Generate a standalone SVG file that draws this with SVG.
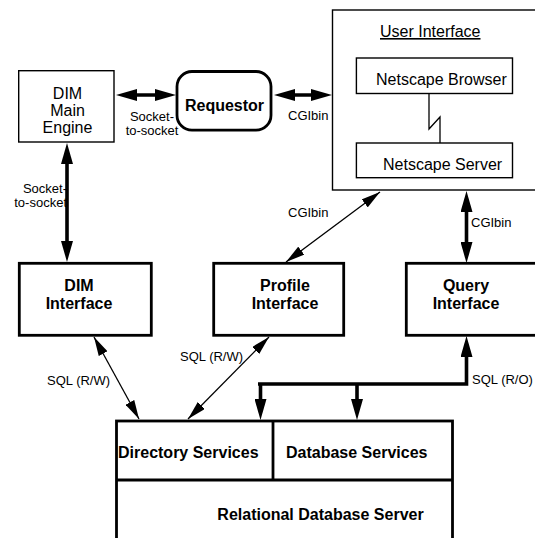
<svg xmlns="http://www.w3.org/2000/svg" width="535" height="538" viewBox="0 0 535 538">
<defs>
<style>
text{font-family:"Liberation Sans",Arial,sans-serif;fill:#000}
.t{font-size:16px}
.b{font-size:16px;font-weight:bold}
.l{font-size:13px}
.box{fill:#fff;stroke:#000;stroke-width:1.4}
.bbox{fill:#fff;stroke:#000;stroke-width:2.8}
.thick{fill:none;stroke:#000;stroke-width:3.6}
.thin{fill:none;stroke:#000;stroke-width:1.3}
</style>
<marker id="ah" markerUnits="userSpaceOnUse" markerWidth="21" markerHeight="12" refX="10" refY="6" orient="auto-start-reverse" viewBox="0 0 21 12">
<path d="M0,0 L21,6 L0,12 z" fill="#000"/>
</marker>
<marker id="as" markerUnits="userSpaceOnUse" markerWidth="19" markerHeight="10" refX="19" refY="5" orient="auto-start-reverse" viewBox="0 0 19 10">
<path d="M0,0 L19,5 L0,10 z" fill="#000"/>
</marker>
</defs>
<rect width="535" height="538" fill="#fff"/>

<g id="dim-main-engine">
<rect class="box" x="18.7" y="70.7" width="95.3" height="71.3"/>
<text class="t" x="67.5" y="98.5" text-anchor="middle">DIM</text>
<text class="t" x="67.5" y="115.5" text-anchor="middle">Main</text>
<text class="t" x="67.5" y="132.5" text-anchor="middle">Engine</text>
</g>

<g id="requestor">
<rect class="bbox" x="177" y="71.5" width="94" height="58.7" rx="15" ry="15"/>
<text class="b" x="224.5" y="110.5" text-anchor="middle">Requestor</text>
</g>

<g id="user-interface">
<rect class="box" x="332.5" y="10" width="210" height="180"/>
<text class="t" x="380" y="37" text-decoration="underline">User Interface</text>
</g>

<g id="netscape-browser">
<rect class="box" x="356.4" y="58" width="156.1" height="35.5"/>
<text class="t" x="376" y="85">Netscape Browser</text>
</g>

<g id="netscape-server">
<rect class="box" x="356.4" y="143" width="156.1" height="34.7"/>
<text class="t" x="383" y="170">Netscape Server</text>
</g>

<g id="dim-interface">
<rect class="bbox" x="19.3" y="263.3" width="132" height="72"/>
<text class="b" x="79" y="291" text-anchor="middle">DIM</text>
<text class="b" x="79" y="308.5" text-anchor="middle">Interface</text>
</g>

<g id="profile-interface">
<rect class="bbox" x="213.7" y="263.3" width="130" height="72"/>
<text class="b" x="285" y="291" text-anchor="middle">Profile</text>
<text class="b" x="285" y="308.5" text-anchor="middle">Interface</text>
</g>

<g id="query-interface">
<rect class="bbox" x="406.3" y="263.3" width="140" height="72"/>
<text class="b" x="466" y="291" text-anchor="middle">Query</text>
<text class="b" x="466" y="308.5" text-anchor="middle">Interface</text>
</g>

<g id="relational-database-server">
<rect class="bbox" x="116.5" y="421" width="336" height="130"/>
<line x1="116.5" y1="480" x2="452.5" y2="480" stroke="#000" stroke-width="2.8"/>
<text class="b" x="320.5" y="520" text-anchor="middle">Relational Database Server</text>
</g>

<g id="directory-services">
<line x1="273" y1="421" x2="273" y2="480" stroke="#000" stroke-width="2.8"/>
<text class="b" x="118" y="458">Directory Services</text>
</g>

<g id="database-services">
<text class="b" x="286" y="458">Database Services</text>
</g>

<g id="connectors">
<text class="l" x="152" y="120.7" text-anchor="middle">Socket-</text>
<text class="l" x="152" y="134.7" text-anchor="middle">to-socket</text>
<text class="l" x="67" y="192.7" text-anchor="end">Socket-</text>
<text class="l" x="67" y="206.7" text-anchor="end">to-socket</text>
<text class="l" x="288" y="120">CGIbin</text>
<text class="l" x="288" y="217">CGIbin</text>
<text class="l" x="471" y="227.3">CGIbin</text>
<text class="l" x="47" y="385">SQL (R/W)</text>
<text class="l" x="180" y="360.7">SQL (R/W)</text>
<text class="l" x="472" y="383.5">SQL (R/O)</text>

<line class="thick" x1="127" y1="95" x2="165" y2="95" marker-start="url(#ah)" marker-end="url(#ah)"/>
<line class="thick" x1="285" y1="95" x2="321" y2="95" marker-start="url(#ah)" marker-end="url(#ah)"/>
<line class="thick" x1="67" y1="154" x2="67" y2="251" marker-start="url(#ah)" marker-end="url(#ah)"/>
<line class="thick" x1="466.5" y1="202" x2="466.5" y2="252" marker-start="url(#ah)" marker-end="url(#ah)"/>
<path class="thick" d="M258,384 H466.5 V347" stroke-linejoin="miter" marker-end="url(#ah)"/>
<line class="thick" x1="260.5" y1="384" x2="260.5" y2="409" marker-end="url(#ah)"/>
<line class="thick" x1="357" y1="384" x2="357" y2="409" marker-end="url(#ah)"/>

<line class="thin" x1="94" y1="337" x2="139" y2="419" marker-start="url(#as)" marker-end="url(#as)"/>
<line class="thin" x1="269" y1="337" x2="188" y2="419" marker-start="url(#as)" marker-end="url(#as)"/>
<line class="thin" x1="380" y1="192" x2="286" y2="262" marker-start="url(#as)" marker-end="url(#as)"/>

<path class="thin" d="M429,93.5 V129 L440,117 V143"/>
</g>
</svg>
